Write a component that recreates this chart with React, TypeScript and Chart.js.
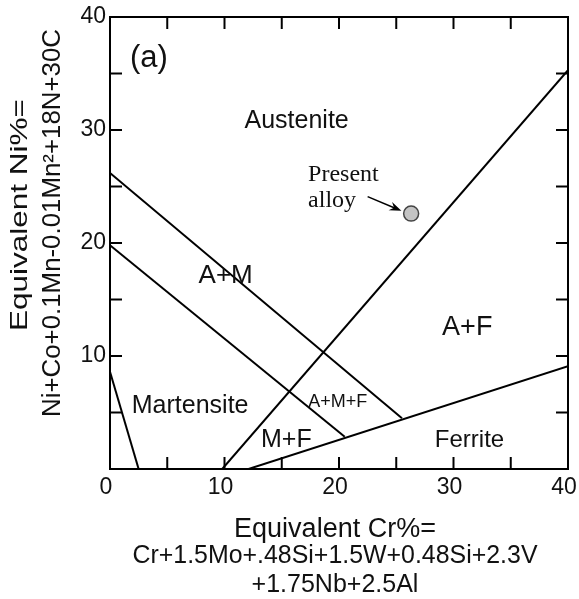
import React, { useEffect, useRef } from 'react';
import { Chart, registerables } from 'chart.js';

Chart.register(...registerables);

// ---- data (equivalent Cr %, equivalent Ni %) ----
const X_TICK_VALUES = [0, 10, 20, 30, 40];
const Y_TICK_VALUES = [0, 10, 20, 30, 40];
const MINOR_TICK_VALUES = [5, 10, 15, 20, 25, 30, 35];

const martensiteBoundary = [{ x: 0, y: 8.6 }, { x: 2.5, y: 0 }];
const amUpperBoundary = [{ x: 0, y: 26.2 }, { x: 25.5, y: 4.5 }];
const amLowerBoundary = [{ x: 0, y: 19.8 }, { x: 20.5, y: 2.85 }];
const austeniteFerriteBoundary = [{ x: 9.8, y: 0 }, { x: 40, y: 35.3 }];
const ferriteBoundary = [{ x: 12.1, y: 0 }, { x: 40, y: 9.1 }];
const presentAlloy = [{ x: 26.3, y: 22.6 }];

const regionNames = ['Austenite', 'A+M', 'A+F', 'Martensite', 'A+M+F', 'M+F', 'Ferrite'];
const regionX = [16.3, 10.1, 31.2, 7.0, 19.9, 15.4, 31.4];
const regionY = [30.2, 16.5, 11.9, 5.0, 5.5, 1.95, 1.95];

const panelLabel = '(a)';
const alloyLabel = ['Present', 'alloy'];

const xTitle = ['Equivalent Cr%=', 'Cr+1.5Mo+.48Si+1.5W+0.48Si+2.3V', '+1.75Nb+2.5Al'];
const yTitle = ['Equivalent Ni%=', 'Ni+Co+0.1Mn-0.01Mn\u00B2+18N+30C'];

// ---- styles ----
const SANS = '"Liberation Sans", Arial, Helvetica, sans-serif';
const SERIF = '"Liberation Serif", "Times New Roman", serif';
const INK = '#111';
const regionFontSizes = [25, 26, 27, 25, 18, 25, 24];

function strokeLine(ctx: CanvasRenderingContext2D, x1: number, y1: number, x2: number, y2: number) {
  ctx.beginPath();
  ctx.moveTo(x1, y1);
  ctx.lineTo(x2, y2);
  ctx.stroke();
}

function drawText(
  ctx: CanvasRenderingContext2D,
  text: string,
  x: number,
  y: number,
  font: string,
  align: CanvasTextAlign,
  rotate = false,
  targetLen = 0
) {
  ctx.save();
  ctx.font = font;
  ctx.fillStyle = INK;
  ctx.textAlign = align;
  ctx.textBaseline = 'alphabetic';
  const w = ctx.measureText(text).width;
  ctx.translate(x, y);
  if (rotate) ctx.rotate(-Math.PI / 2);
  if (targetLen > 0) ctx.scale(targetLen / w, 1);
  ctx.fillText(text, 0, 0);
  ctx.restore();
}

const overlayPlugin = {
  id: 'overlay',
  afterDatasetsDraw(chart: any) {
    const { ctx, chartArea: a, scales } = chart;
    const xs = scales.x;
    const ys = scales.y;
    ctx.save();
    ctx.strokeStyle = '#000';
    ctx.lineWidth = 2;
    ctx.lineCap = 'butt';
    ctx.strokeRect(a.left, a.top, a.right - a.left, a.bottom - a.top);
    const TL = 12;
    MINOR_TICK_VALUES.forEach((v) => {
      const px = xs.getPixelForValue(v);
      strokeLine(ctx, px, a.bottom, px, a.bottom - TL);
      strokeLine(ctx, px, a.top, px, a.top + TL);
      const py = ys.getPixelForValue(v);
      strokeLine(ctx, a.left, py, a.left + TL, py);
      strokeLine(ctx, a.right, py, a.right - TL, py);
    });

    // region labels
    regionNames.forEach((name, i) => {
      drawText(
        ctx,
        name,
        xs.getPixelForValue(regionX[i]),
        ys.getPixelForValue(regionY[i]),
        `${regionFontSizes[i]}px ${SANS}`,
        'center'
      );
    });

    // panel label
    drawText(ctx, panelLabel, xs.getPixelForValue(3.4), ys.getPixelForValue(35.6), `31px ${SANS}`, 'center');

    // present alloy annotation
    drawText(ctx, alloyLabel[0], xs.getPixelForValue(17.3), ys.getPixelForValue(25.5), `24px ${SERIF}`, 'left');
    drawText(ctx, alloyLabel[1], xs.getPixelForValue(17.3), ys.getPixelForValue(23.2), `24px ${SERIF}`, 'left');

    const ax1 = xs.getPixelForValue(22.5);
    const ay1 = ys.getPixelForValue(24.1);
    const ax2 = xs.getPixelForValue(25.45);
    const ay2 = ys.getPixelForValue(22.85);
    const ang = Math.atan2(ay2 - ay1, ax2 - ax1);
    ctx.lineWidth = 1.5;
    strokeLine(ctx, ax1, ay1, ax2 - 6 * Math.cos(ang), ay2 - 6 * Math.sin(ang));
    ctx.fillStyle = '#000';
    ctx.beginPath();
    ctx.moveTo(ax2, ay2);
    ctx.lineTo(ax2 - 12 * Math.cos(ang) + 4.5 * Math.sin(ang), ay2 - 12 * Math.sin(ang) - 4.5 * Math.cos(ang));
    ctx.lineTo(ax2 - 8 * Math.cos(ang), ay2 - 8 * Math.sin(ang));
    ctx.lineTo(ax2 - 12 * Math.cos(ang) - 4.5 * Math.sin(ang), ay2 - 12 * Math.sin(ang) + 4.5 * Math.cos(ang));
    ctx.closePath();
    ctx.fill();

    // axis titles
    const cxTitle = 335;
    drawText(ctx, xTitle[0], cxTitle, 537, `27px ${SANS}`, 'center');
    drawText(ctx, xTitle[1], cxTitle, 563, `25px ${SANS}`, 'center', false, 405);
    drawText(ctx, xTitle[2], cxTitle, 592, `25px ${SANS}`, 'center');

    drawText(ctx, yTitle[0], 27, 215, `24px ${SANS}`, 'center', true, 232);
    drawText(ctx, yTitle[1], 60, 223, `25px ${SANS}`, 'center', true, 388);
    ctx.restore();
  },
};

export default function App() {
  const canvasRef = useRef<HTMLCanvasElement | null>(null);

  useEffect(() => {
    if (!canvasRef.current) return;
    const lineDs = (data: { x: number; y: number }[]) => ({
      data,
      showLine: true,
      borderColor: '#000',
      borderWidth: 2,
      pointRadius: 0,
      pointHoverRadius: 0,
      fill: false,
    });
    const chart = new Chart(canvasRef.current, {
      type: 'scatter',
      data: {
        datasets: [
          lineDs(martensiteBoundary),
          lineDs(amUpperBoundary),
          lineDs(amLowerBoundary),
          lineDs(austeniteFerriteBoundary),
          lineDs(ferriteBoundary),
          {
            data: presentAlloy,
            pointRadius: 7.5,
            pointBackgroundColor: '#c4c4c4',
            pointBorderColor: '#444',
            pointBorderWidth: 1.5,
            showLine: false,
          },
        ],
      },
      options: {
        animation: false,
        responsive: false,
        maintainAspectRatio: false,
        events: [],
        layout: { padding: { top: 17, right: 11, left: 0, bottom: 0 } },
        plugins: { legend: { display: false }, tooltip: { enabled: false }, title: { display: false } },
        scales: {
          x: {
            type: 'linear',
            min: 0,
            max: 40,
            afterFit: (s: any) => {
              s.height = 130;
              s.paddingLeft = 0;
              s.paddingRight = 0;
              s.paddingTop = 0;
              s.paddingBottom = 0;
            },
            afterBuildTicks: (s: any) => {
              s.ticks = X_TICK_VALUES.map((v) => ({ value: v }));
            },
            grid: { display: false, drawTicks: false },
            border: { display: false },
            ticks: {
              color: INK,
              padding: 5,
              labelOffset: -4,
              autoSkip: false,
              maxRotation: 0,
              font: { family: SANS, size: 23 },
            },
          },
          y: {
            type: 'linear',
            min: 0,
            max: 40,
            afterFit: (s: any) => {
              s.width = 110;
              s.paddingLeft = 0;
              s.paddingRight = 0;
              s.paddingTop = 0;
              s.paddingBottom = 0;
            },
            afterBuildTicks: (s: any) => {
              s.ticks = Y_TICK_VALUES.map((v) => ({ value: v }));
            },
            grid: { display: false, drawTicks: false },
            border: { display: false },
            ticks: {
              color: INK,
              padding: 4,
              autoSkip: false,
              font: { family: SANS, size: 23 },
              callback: (v: any) => (Number(v) === 0 ? '' : String(v)),
            },
          },
        },
      },
      plugins: [overlayPlugin],
    } as any);
    return () => chart.destroy();
  }, []);

  return (
    <div style={{ position: 'fixed', left: 0, top: 0, width: 579, height: 599, background: '#fff' }}>
      <canvas ref={canvasRef} width={579} height={599} style={{ width: 579, height: 599, display: 'block' }} />
    </div>
  );
}
